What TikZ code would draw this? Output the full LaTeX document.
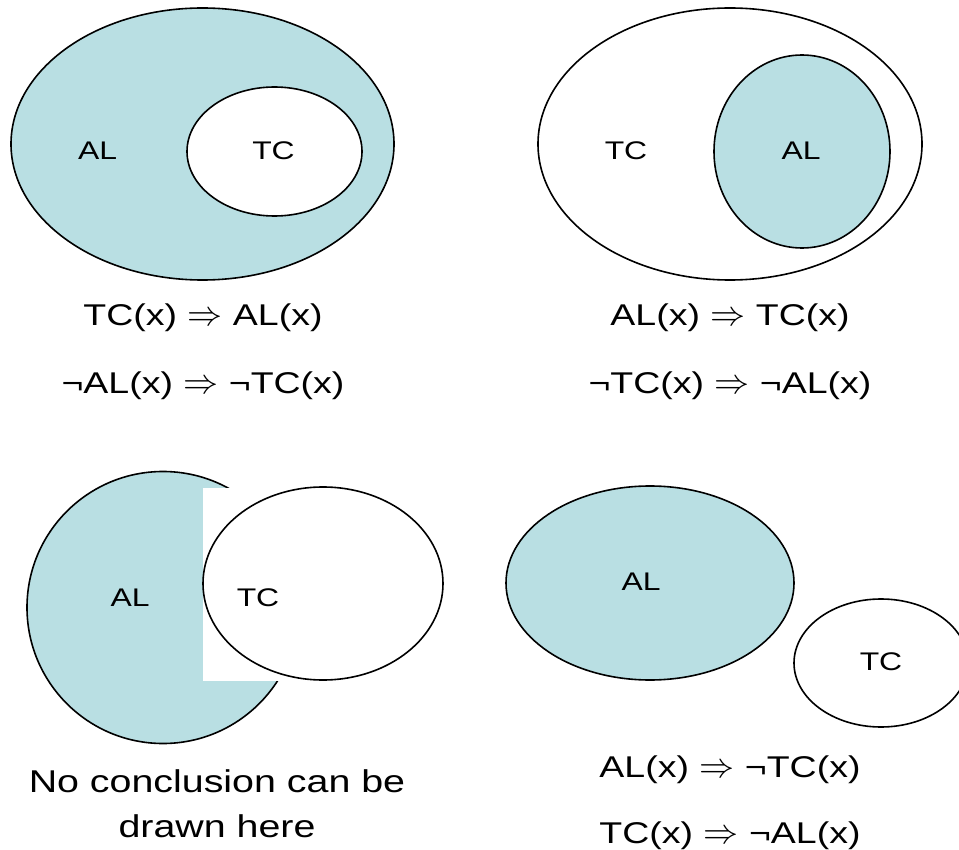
\RequirePackage{fix-cm}
\documentclass[tikz,border=0pt]{standalone}
\usepackage{fontspec}
\setmainfont{Liberation Sans}[FakeStretch=1.25]
\usetikzlibrary{shapes.geometric}
\definecolor{VennTeal}{RGB}{185,223,227}
\newcommand{\vennimp}{{\fontsize{35}{35}\selectfont$\Rightarrow$}}
\tikzset{
  venn/set/.style={
    ellipse,
    draw=black,
    line width=1.6pt,
    fill=white,
    inner sep=0pt
  },
  venn/shaded/.style={venn/set, fill=VennTeal},
  venn/label/.style={font=\fontsize{25.5}{30}\selectfont, text=black, inner sep=0pt},
  venn/formula/.style={font=\fontsize{30}{36}\selectfont, text=black, anchor=base, inner sep=0pt},
  venn/caption/.style={font=\fontsize{31.5}{38}\selectfont, text=black, anchor=base, inner sep=0pt}
}

\begin{document}
\begin{tikzpicture}[x=1pt,y=-1pt]
  \useasboundingbox (0,0) rectangle (959,850);

  % TC inside AL
  \node[venn/shaded, minimum width=383pt, minimum height=272pt] (al1) at (202.5,144) {};
  \node[venn/set, minimum width=175pt, minimum height=129pt] (tc1) at (274.5,151.5) {};
  \node[venn/label] (al1l) at (97.5,151) {AL};
  \node[venn/label] (tc1l) at (273.5,151) {TC};

  % AL inside TC
  \node[venn/set, minimum width=384pt, minimum height=272pt] (tc2) at (730,144) {};
  \node[venn/shaded, minimum width=176pt, minimum height=193pt] (al2) at (802,151.5) {};
  \node[venn/label] (tc2l) at (626,151) {TC};
  \node[venn/label] (al2l) at (801,151) {AL};

  % overlapping
  \node[venn/shaded, minimum width=272pt, minimum height=272pt] (al3) at (163,607.5) {};
  \fill[white] (203,488) rectangle (323,681);
  \node[venn/set, minimum width=240pt, minimum height=193pt] (tc3) at (323,583.5) {};
  \node[venn/label] (al3l) at (130,598) {AL};
  \node[venn/label] (tc3l) at (258,598) {TC};

  % disjoint
  \node[venn/shaded, minimum width=288pt, minimum height=194pt] (al4) at (650,583) {};
  \node[venn/set, minimum width=174pt, minimum height=128pt] (tc4) at (881,663) {};
  \node[venn/label] (al4l) at (641,582) {AL};
  \node[venn/label] (tc4l) at (881,662) {TC};

  \foreach \i/\x/\y/\txt in {
    1/203/326/{TC(x) \vennimp{} AL(x)},
    2/203/394/{¬AL(x) \vennimp{} ¬TC(x)},
    3/730/326/{AL(x) \vennimp{} TC(x)},
    4/730/394/{¬TC(x) \vennimp{} ¬AL(x)},
    5/730/777/{AL(x) \vennimp{} ¬TC(x)},
    6/730/843/{TC(x) \vennimp{} ¬AL(x)}}{
    \node[venn/formula] (f\i) at (\x,\y) {\txt};
  }
  \node[venn/caption] (cap1) at (217,792) {No conclusion can be};
  \node[venn/caption] (cap2) at (217,837) {drawn here};
\end{tikzpicture}
\end{document}
